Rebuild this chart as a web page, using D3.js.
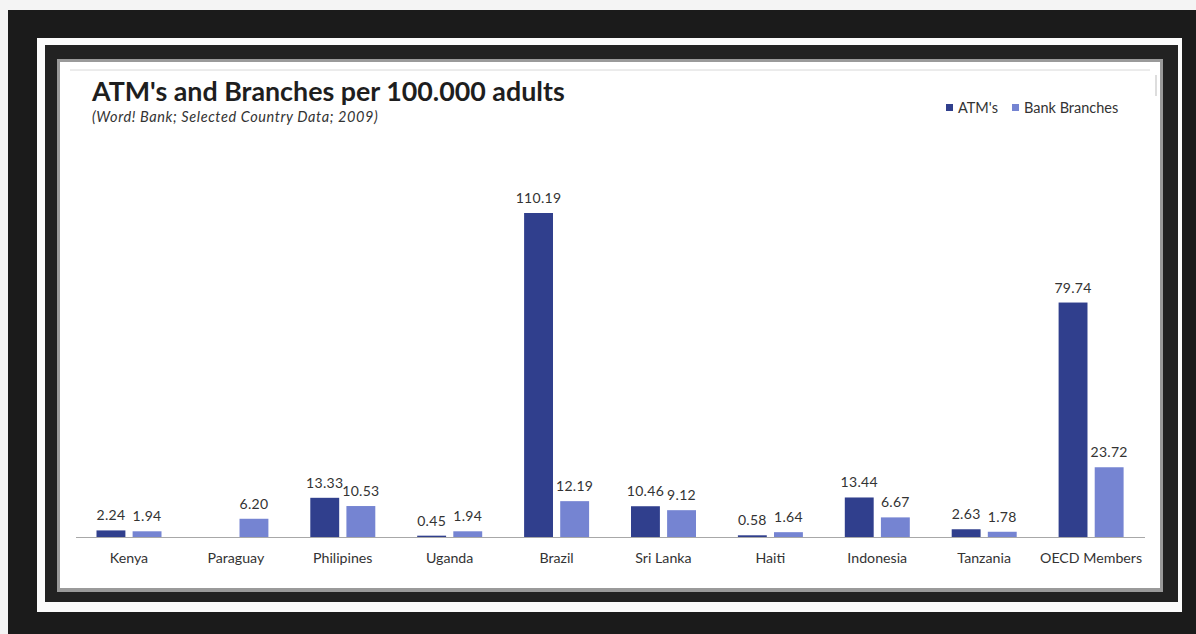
<!DOCTYPE html>
<html>
<head>
<meta charset="utf-8">
<script src="https://cdn.jsdelivr.net/npm/d3@7/dist/d3.min.js"></script>
<style>
  html, body { margin: 0; padding: 0; background: #fff; }
  svg { display: block; }
  text { font-family: Lato, "Open Sans", sans-serif; }
</style>
</head>
<body>
<svg id="chart" width="1196" height="634"></svg>
<script>
const categories = ["Kenya", "Paraguay", "Philipines", "Uganda", "Brazil", "Sri Lanka", "Haiti", "Indonesia", "Tanzania", "OECD Members"];
const seriesNames = ["ATM's", "Bank Branches"];
const atms = [2.24, null, 13.33, 0.45, 110.19, 10.46, 0.58, 13.44, 2.63, 79.74];
const branches = [1.94, 6.20, 10.53, 1.94, 12.19, 9.12, 1.64, 6.67, 1.78, 23.72];
const seriesColors = ["#303f8d", "#7584d2"];
const titleText = "ATM's and Branches per 100.000 adults";
const subtitleText = "(Word! Bank; Selected Country Data; 2009)";

const svg = d3.select("#chart");

// Photo frame
svg.append("rect").attr("x", 0).attr("y", 0).attr("width", 1196).attr("height", 634).attr("fill", "#f4f4f4");
svg.append("rect").attr("x", 8).attr("y", 10).attr("width", 1188).attr("height", 624).attr("fill", "#1b1b1b");
svg.append("rect").attr("x", 37).attr("y", 38).attr("width", 1145).attr("height", 574).attr("fill", "#fbfbfb");
svg.append("rect").attr("x", 45).attr("y", 45).attr("width", 1133).attr("height", 557).attr("fill", "#222");
svg.append("rect").attr("x", 57).attr("y", 59).attr("width", 1106).attr("height", 533).attr("fill", "#9a9a9a");
svg.append("rect").attr("x", 60).attr("y", 62).attr("width", 1100).attr("height", 526).attr("fill", "#ffffff");
svg.append("line").attr("x1", 70).attr("x2", 1150).attr("y1", 70).attr("y2", 70).attr("stroke", "#d8d8d8");
svg.append("line").attr("x1", 1156).attr("x2", 1156).attr("y1", 75).attr("y2", 96).attr("stroke", "#bbb");

// Scales
const x0 = d3.scaleBand().domain(categories).range([75.5, 1144.5]).paddingInner(0).paddingOuter(0);
const x1 = d3.scaleBand().domain(seriesNames).range([21, 86]).paddingInner(0.2);
const y = d3.scaleLinear().domain([0, 120]).range([537, 537 - 120 * (324 / 110.19)]);

// Title
svg.append("text").attr("x", 92).attr("y", 101).attr("font-size", 26.8).attr("font-weight", 700)
  .attr("fill", "#1e1e1e").text(titleText);
svg.append("text").attr("x", 92).attr("y", 122).attr("font-size", 14.5).attr("font-style", "italic")
  .attr("letter-spacing", 0.6).attr("fill", "#333").text(subtitleText);

// Legend
const legendItems = [{name: seriesNames[0], x: 946}, {name: seriesNames[1], x: 1012}];
legendItems.forEach((d, i) => {
  svg.append("rect").attr("x", d.x).attr("y", 104).attr("width", 7).attr("height", 7).attr("fill", seriesColors[i]);
  svg.append("text").attr("x", d.x + 12).attr("y", 112.5).attr("font-size", 14.5).attr("fill", "#333").text(d.name);
});

// Data rows
const rows = categories.map((c, i) => ({cat: c, vals: [atms[i], branches[i]]}));

const groups = svg.append("g").selectAll("g").data(rows).join("g")
  .attr("transform", d => `translate(${x0(d.cat)},0)`);

groups.selectAll("rect").data(d => d.vals.map((v, j) => ({v, s: seriesNames[j], j})).filter(e => e.v !== null))
  .join("rect")
  .attr("x", e => x1(e.s))
  .attr("width", x1.bandwidth())
  .attr("y", e => y(e.v))
  .attr("height", e => y(0) - y(e.v))
  .attr("fill", e => seriesColors[e.j]);

groups.selectAll("text.val").data(d => d.vals.map((v, j) => ({v, s: seriesNames[j], j})).filter(e => e.v !== null))
  .join("text").attr("class", "val")
  .attr("x", e => x1(e.s) + x1.bandwidth() / 2)
  .attr("y", e => y(e.v) - 10)
  .attr("text-anchor", "middle")
  .attr("font-size", 14)
  .attr("letter-spacing", 0.3)
  .attr("fill", "#333")
  .text(e => e.v.toFixed(2));

// Axis
const xAxis = d3.axisBottom(x0).tickSize(0).tickPadding(16);
const ax = svg.append("g").attr("transform", `translate(0,${y(0)})`).call(xAxis);
ax.select(".domain").attr("stroke", "#a8a8a8").attr("stroke-width", 1.2);
ax.selectAll(".tick text").attr("font-size", 14.2).attr("fill", "#333").attr("font-family", "Lato, sans-serif");
</script>
</body>
</html>
